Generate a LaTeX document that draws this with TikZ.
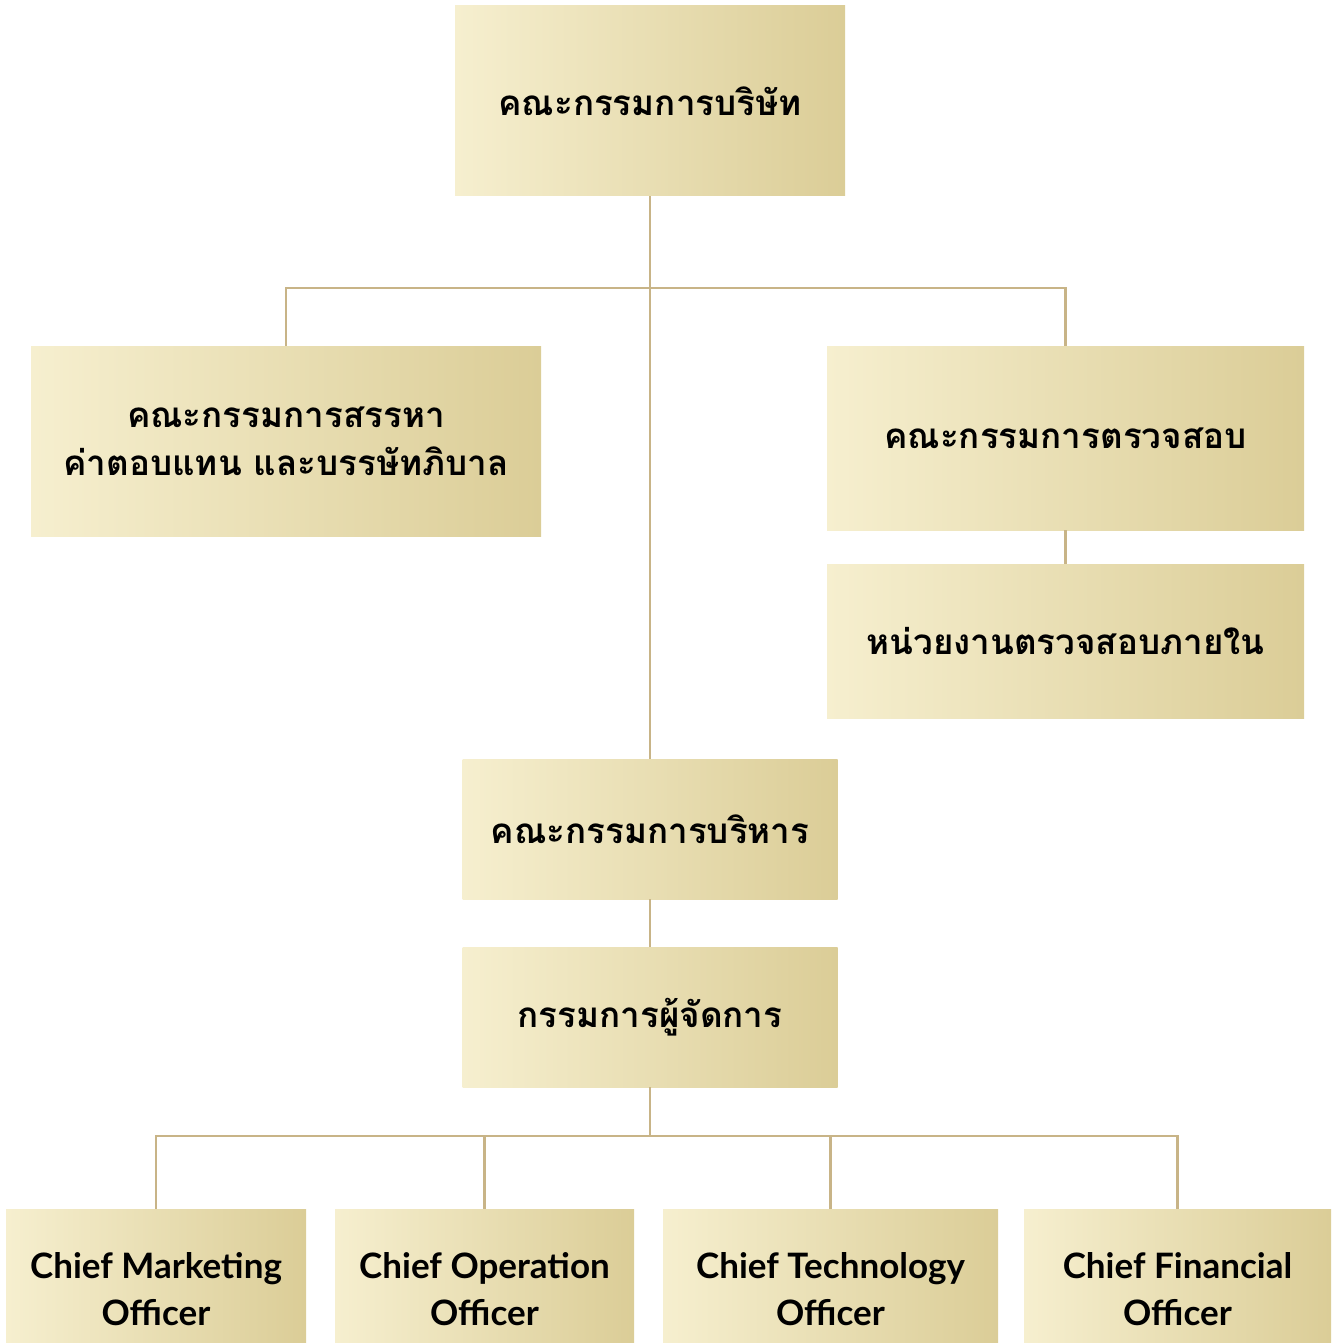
\documentclass[tikz,border=0pt]{standalone}
\usepackage{fontspec}
\setmainfont{Lato}
\newfontfamily\thaifont[Script=Thai]{Loma}
\usetikzlibrary{positioning}
\definecolor{goldlight}{HTML}{F6EFCF}
\definecolor{golddark}{HTML}{DBCD97}
\definecolor{goldline}{HTML}{C8B487}
\tikzset{
  orgbox/.style={left color=goldlight, right color=golddark, draw=none,
    inner sep=0pt, align=center},
  thaibox/.style={orgbox, font=\thaifont\bfseries\fontsize{35}{48}\selectfont},
  engbox/.style={orgbox, font=\bfseries\fontsize{35}{47}\selectfont},
  link/.style={draw=goldline, line width=2.5pt}
}
\begin{document}
\begin{tikzpicture}[x=1pt,y=-1pt]
  \useasboundingbox (0,0) rectangle (1336,1343);
  % Boxes
  \node[thaibox, minimum width=390, minimum height=190] (board) at (650,101) {คณะกรรมการบริษัท};
  \node[thaibox, minimum width=510, minimum height=190] (nomin) at (286,441) {คณะกรรมการสรรหา\\ค่าตอบแทน และบรรษัทภิบาล};
  \node[thaibox, minimum width=477, minimum height=184] (audit) at (1065.5,438) {คณะกรรมการตรวจสอบ};
  \node[thaibox, minimum width=477, minimum height=154] (internal) at (1065.5,641) {หน่วยงานตรวจสอบภายใน};
  \node[thaibox, minimum width=375, minimum height=140] (exec) at (650,829) {คณะกรรมการบริหาร};
  \node[thaibox, minimum width=375, minimum height=140] (md) at (650,1017) {กรรมการผู้จัดการ};
  % box bottoms run past the page edge
  \node[engbox, minimum width=300, minimum height=160] (cmo) at (156,1289) {Chief Marketing\\Officer};
  \node[engbox, minimum width=299, minimum height=160] (coo) at (484.5,1289) {Chief Operation\\Officer};
  \node[engbox, minimum width=335, minimum height=160] (cto) at (830.5,1289) {Chief Technology\\Officer};
  \node[engbox, minimum width=307, minimum height=160] (cfo) at (1177.5,1289) {Chief Financial\\Officer};
  % Connectors
  \coordinate (split) at (650,288);
  \coordinate (fork) at (650,1136);
  \draw[link] (board.south) -- (exec.north);
  \draw[link] (nomin.north) |- (split) -| (audit.north);
  \draw[link] (audit) -- (internal);
  \draw[link] (exec) -- (md);
  \draw[link] (md.south) -- (fork);
  \draw[link] (cmo.north) |- (fork) -| (cfo.north);
  \draw[link] (coo.north) -- (coo.north |- fork);
  \draw[link] (cto.north) -- (cto.north |- fork);
\end{tikzpicture}
\end{document}
